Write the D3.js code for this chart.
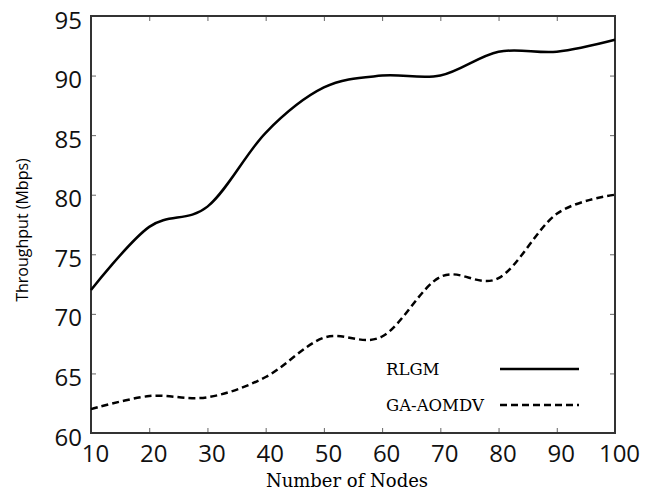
<!DOCTYPE html>
<html>
<head>
<meta charset="utf-8">
<style>
  html, body { margin: 0; padding: 0; background: #fff; }
</style>
</head>
<body>
<svg width="662" height="496"></svg>
<script src="https://d3js.org/d3.v7.min.js"></script>
<script>

var nodes = [10, 20, 30, 40, 50, 60, 70, 80, 90, 100];
var rlgm = [72, 77.3, 79, 85.2, 89, 90, 90, 92, 92, 93];
var gaAomdv = [62, 63.1, 63, 64.7, 68, 68.1, 73.1, 73, 78.4, 80];
var yTicks = [60, 65, 70, 75, 80, 85, 90, 95];
var seriesNames = ["RLGM", "GA-AOMDV"];

var svg = d3.select("svg"),
    margin = {top: 16, right: 47, bottom: 63, left: 91},
    width = +svg.attr("width") - margin.left - margin.right,
    height = +svg.attr("height") - margin.top - margin.bottom;

var x = d3.scaleLinear().domain([10, 100]).range([0, width]);
var y = d3.scaleLinear().domain([60, 95]).range([height, 0]);

var g = svg.append("g")
    .attr("transform", "translate(" + margin.left + "," + margin.top + ")");

// inside ticks on all four sides
function styleAxis(sel) {
  sel.select(".domain").remove();
  sel.selectAll(".tick line").attr("stroke", "#666").attr("stroke-width", 1);
}

g.append("g")
    .attr("transform", "translate(0," + height + ")")
    .call(d3.axisBottom(x).tickValues(nodes).tickSizeInner(-5).tickSizeOuter(0).tickPadding(12))
    .call(styleAxis)
    .call(function(s) {
      s.selectAll("text")
        .attr("dx", 4)
        .attr("font-family", "'Open Sans', sans-serif")
        .attr("font-size", 24)
        .attr("fill", "#111");
    });

g.append("g")
    .call(d3.axisTop(x).tickValues(nodes).tickSizeInner(-5).tickSizeOuter(0).tickFormat(""))
    .call(styleAxis);

g.append("g")
    .call(d3.axisLeft(y).tickValues(yTicks).tickSizeInner(-5).tickSizeOuter(0).tickPadding(9))
    .call(styleAxis)
    .call(function(s) {
      s.selectAll("text")
        .attr("dy", "0.5em")
        .attr("font-family", "'Open Sans', sans-serif")
        .attr("font-size", 24)
        .attr("fill", "#111");
    });

g.append("g")
    .attr("transform", "translate(" + width + ",0)")
    .call(d3.axisRight(y).tickValues(yTicks).tickSizeInner(-5).tickSizeOuter(0).tickFormat(""))
    .call(styleAxis);

g.append("rect")
    .attr("width", width)
    .attr("height", height)
    .attr("fill", "none")
    .attr("stroke", "#333")
    .attr("stroke-width", 2);

var line = d3.line()
    .x(function(d, i) { return x(nodes[i]); })
    .y(function(d) { return y(d); })
    .curve(d3.curveCardinal.tension(0));

g.append("path")
    .datum(rlgm)
    .attr("fill", "none")
    .attr("stroke", "#000")
    .attr("stroke-width", 2.5)
    .attr("d", line);

g.append("path")
    .datum(gaAomdv)
    .attr("fill", "none")
    .attr("stroke", "#000")
    .attr("stroke-width", 2.5)
    .attr("stroke-dasharray", "7,4")
    .attr("d", line);

// legend
var legend = g.append("g")
    .attr("font-family", "'DejaVu Serif', serif")
    .attr("font-size", 16.5)
    .attr("fill", "#000");

var dashes = [null, "7,4"];
seriesNames.forEach(function(name, i) {
  var ly = 353 + i * 36;
  legend.append("text")
      .attr("x", 295)
      .attr("y", ly)
      .attr("dy", "0.36em")
      .text(name);
  legend.append("line")
      .attr("x1", 409)
      .attr("x2", 488)
      .attr("y1", ly)
      .attr("y2", ly)
      .attr("stroke", "#000")
      .attr("stroke-width", 2.5)
      .attr("stroke-dasharray", dashes[i]);
});

svg.append("text")
    .attr("x", 347)
    .attr("y", 487)
    .attr("text-anchor", "middle")
    .attr("font-family", "'DejaVu Serif', serif")
    .attr("font-size", 18)
    .attr("fill", "#000")
    .text("Number of Nodes");

svg.append("text")
    .attr("transform", "translate(28,230) rotate(-90)")
    .attr("text-anchor", "middle")
    .attr("font-family", "'Open Sans', sans-serif")
    .attr("font-size", 16)
    .attr("fill", "#000")
    .text("Throughput (Mbps)");

</script>
</body>
</html>
